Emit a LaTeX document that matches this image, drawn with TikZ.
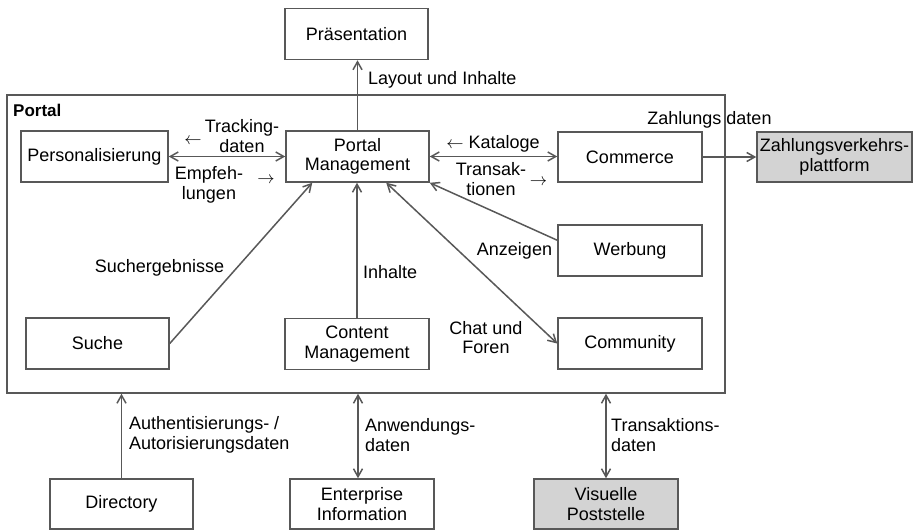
\documentclass[tikz,border=0pt]{standalone}
\usepackage{fontspec}
\setmainfont{Liberation Sans}
\usetikzlibrary{arrows.meta,calc}
\definecolor{edge}{RGB}{88,88,88}
\definecolor{shade}{RGB}{211,211,211}

\begin{document}
\begin{tikzpicture}[x=1pt,y=-1pt,
  >={Straight Barb[length=8pt,width=9pt]},
  every node/.style={font=\fontsize{18}{19.5}\selectfont, text=black},
  box/.style={draw=edge, line width=1.5pt, fill=white, inner sep=0pt,
    minimum width=143pt, minimum height=51pt, align=center},
  ext/.style={box, fill=shade},
  conn/.style={draw=edge, line width=1.5pt},
  lbl/.style={inner sep=0pt, align=center},
  lblleft/.style={inner sep=0pt, align=left, anchor=west}
]
\useasboundingbox (0,0) rectangle (914,530);

% portal frame
\node[draw=edge, line width=1.5pt, inner sep=0pt, minimum width=718pt,
  minimum height=298pt] (portal) at (366,244) {};
\node[inner sep=0pt, anchor=west, font=\fontsize{17}{19}\selectfont\bfseries]
  (portaltitle) at (13,110) {Portal};

% components
\node[box] (pres) at (356.5,34) {Präsentation};
\node[box] (pm) at (357.5,156.5) {Portal\\Management};
\node[box, minimum width=147pt] (pers) at (94.5,156.5) {Personalisierung};
\node[box, minimum width=144pt, minimum height=50pt] (com) at (630,157) {Commerce};
\node[ext, minimum width=155pt, minimum height=50pt] (zvp) at (834.5,157) {Zahlungsverkehrs-\\plattform};
\node[box, minimum width=144pt] (werb) at (630,250.5) {Werbung};
\node[box, minimum width=144pt] (comm) at (630,343.5) {Community};
\node[box] (such) at (97.5,343.5) {Suche};
\node[box, minimum width=144pt] (cms) at (357,344) {Content\\Management};
\node[box, minimum height=50pt] (dir) at (121.5,504) {Directory};
\node[box, minimum width=144pt, minimum height=50pt] (ei) at (362,504) {Enterprise\\Information};
\node[ext, minimum width=144pt, minimum height=50pt] (vp) at (606,504) {Visuelle\\Poststelle};

% connectors
\draw[conn, ->] (pm.north) -- (pm.north |- pres.south);
\draw[conn, <->] (pers) -- (pm);
\draw[conn, <->] (pm.east) -- (pm.east -| com.west);
\draw[conn, ->] (com.east) -- (com.east -| zvp.west);
\draw[conn, ->] (cms.north) -- (cms.north |- pm.south);
\draw[conn, ->] (such.east) -- ($(pm.south west)+(27,0)$);
\draw[conn, ->] ($(werb.north west)+(0,16)$) -- (pm.south east);
\draw[conn, <->] ($(pm.south west)+(101,0)$) -- (comm.west);
\draw[conn, ->] (dir.north) -- (dir.north |- portal.south);
\coordinate (eitop) at ($(ei.north)+(-4,0)$);
\draw[conn, <->] (eitop) -- (eitop |- portal.south);
\draw[conn, <->] (vp.north) -- (vp.north |- portal.south);

% labels
\node[lblleft] (lay) at (368,80) {Layout und Inhalte};
\node[lbl] (track) at (242,136) {Tracking-\\daten};
\node[lbl] (trackarr) at (193,141) {$\leftarrow$};
\node[lbl] (empf) at (209,185) {Empfeh-\\lungen};
\node[lbl] (empfarr) at (266,180) {$\rightarrow$};
\node[lbl] (kat) at (493,144) {$\leftarrow$ Kataloge};
\node[lbl] (trans) at (491,179) {Transak-\\tionen};
\node[lbl] (transarr) at (538.5,182) {$\rightarrow$};
\node[lbl] (zd) at (709.5,120) {Zahlungs daten};
\node[lbl] (sr) at (159.5,268) {Suchergebnisse};
\node[lblleft] (inh) at (363,272) {Inhalte};
\node[lbl] (anz) at (514.5,251) {Anzeigen};
\node[lbl] (chat) at (486,337.5) {Chat und\\Foren};
\node[lblleft] (auth) at (129,435) {Authentisierungs- /\\Autorisierungsdaten};
\node[lblleft] (anw) at (365,435) {Anwendungs-\\daten};
\node[lblleft] (tra) at (611,435) {Transaktions-\\daten};
\end{tikzpicture}
\end{document}
